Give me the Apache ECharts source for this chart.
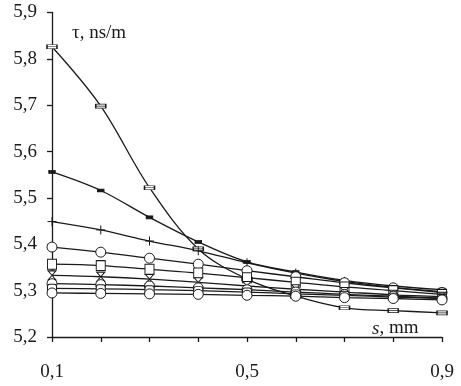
<!DOCTYPE html>
<html>
<head>
<meta charset="utf-8">
<script src="https://cdn.jsdelivr.net/npm/echarts@6/dist/echarts.min.js"></script>
<style>
  html, body { margin: 0; padding: 0; background: #fff; }
  #chart { width: 461px; height: 386px; }
</style>
</head>
<body>
<div id="chart"></div>
<script>
// s, mm
const sValues = ['0,1', '0,2', '0,3', '0,4', '0,5', '0,6', '0,7', '0,8', '0,9'];
// tau, ns/m - one array per curve, top to bottom at s = 0,1
const tauA = [5.826, 5.698, 5.522, 5.39, 5.325, 5.288, 5.263, 5.257, 5.252];
const tauB = [5.556, 5.516, 5.458, 5.405, 5.362, 5.34, 5.322, 5.31, 5.302];
const tauC = [5.449, 5.431, 5.407, 5.386, 5.36, 5.338, 5.32, 5.307, 5.298];
const tauD = [5.394, 5.383, 5.37, 5.357, 5.343, 5.33, 5.317, 5.306, 5.296];
const tauE = [5.357, 5.354, 5.346, 5.338, 5.328, 5.318, 5.308, 5.3, 5.292];
const tauF = [5.333, 5.33, 5.325, 5.318, 5.31, 5.303, 5.297, 5.291, 5.287];
const tauG = [5.315, 5.313, 5.31, 5.306, 5.302, 5.297, 5.292, 5.288, 5.284];
const tauH = [5.305, 5.304, 5.302, 5.3, 5.297, 5.293, 5.29, 5.286, 5.283];
const tauI = [5.295, 5.294, 5.293, 5.292, 5.29, 5.288, 5.285, 5.283, 5.28];

const chart = echarts.init(document.getElementById('chart'));

const ink = '#1a1a1a';
const font = 'Liberation Serif';

function curve(data, symbol, size, fill) {
    return {
        type: 'line',
        data: data,
        smooth: 0.35,
        symbol: symbol,
        symbolSize: size,
        showSymbol: true,
        lineStyle: { color: ink, width: 1.3 },
        itemStyle: { color: fill, borderColor: ink, borderWidth: 1 },
        z: 2
    };
}

chart.setOption({
    animation: false,
    grid: { left: 52, right: 19, top: 12.5, bottom: 49 },
    xAxis: {
        type: 'category',
        data: sValues,
        boundaryGap: false,
        axisLine: { lineStyle: { color: ink, width: 1.3 } },
        axisTick: { show: true, interval: 0, length: 5, lineStyle: { color: ink, width: 1.3 } },
        axisLabel: {
            interval: 3,
            margin: 26,
            color: ink,
            fontFamily: font,
            fontSize: 19
        },
        splitLine: { show: false }
    },
    yAxis: {
        type: 'value',
        min: 5.2,
        max: 5.9,
        interval: 0.1,
        axisLine: { show: true, lineStyle: { color: ink, width: 1.3 } },
        axisTick: { show: true, length: 5, lineStyle: { color: ink, width: 1.3 } },
        axisLabel: {
            margin: 15,
            color: ink,
            fontFamily: font,
            fontSize: 19,
            formatter: v => v.toFixed(1).replace('.', ',')
        },
        splitLine: { show: false }
    },
    graphic: [
        {
            type: 'text',
            left: 72,
            top: 24,
            style: { text: 'τ, ns/m', font: '19px "Liberation Serif"', fill: ink }
        },
        {
            type: 'text',
            left: 372,
            top: 319,
            style: {
                text: '{i|s}, mm',
                font: '19px "Liberation Serif"',
                fill: ink,
                rich: { i: { fontStyle: 'italic', fontFamily: font, fontSize: 19, fill: ink } }
            }
        }
    ],
    series: [
        curve(tauA, 'path://M0,0H10V4H0Z M0,2H10', [10, 4], '#fff'),
        curve(tauB, 'rect', [6, 3], ink),
        curve(tauC, 'path://M0,5L10,5M5,0L5,10', 9, 'none'),
        curve(tauD, 'circle', 10, '#fff'),
        curve(tauE, 'rect', [9, 10], '#fff'),
        curve(tauF, 'path://M0,0L10,0L0,10L10,10Z', [8, 9], '#fff'),
        curve(tauG, 'circle', 10, '#fff'),
        curve(tauH, 'roundRect', [9, 8], '#fff'),
        curve(tauI, 'circle', 10, '#fff')
    ]
});
</script>
</body>
</html>
